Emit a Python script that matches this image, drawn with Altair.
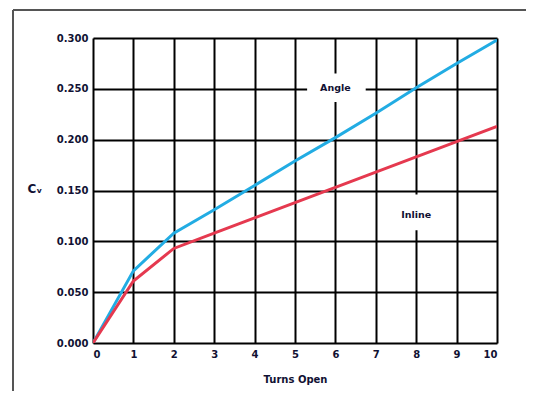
import altair as alt
import pandas as pd

turns = [0, 1, 2, 3, 4, 5, 6, 7, 8, 9, 10]
angle_cv = [0.000, 0.071, 0.108, 0.131, 0.155, 0.179, 0.202, 0.226, 0.251, 0.275, 0.298]
inline_cv = [0.000, 0.061, 0.093, 0.108, 0.123, 0.138, 0.153, 0.168, 0.183, 0.198, 0.213]
series_names = ["Angle", "Inline"]
series_colors = ["#22ace3", "#e5394f"]

x_ticks = list(range(0, 11))
y_ticks = [0.0, 0.05, 0.10, 0.15, 0.20, 0.25, 0.30]

label_text = ["Angle", "Inline"]
label_x = [6.0, 8.0]
label_y = [0.251, 0.126]
box_x1 = [5.3, 7.35]
box_x2 = [6.75, 8.65]
box_y1 = [0.237, 0.111]
box_y2 = [0.265, 0.146]

rows = []
for t, a, i in zip(turns, angle_cv, inline_cv):
    rows.append({"turns": t, "cv": a, "series": "Angle"})
    rows.append({"turns": t, "cv": i, "series": "Inline"})
df = pd.DataFrame(rows)
labels = pd.DataFrame({"text": label_text, "x": label_x, "y": label_y,
                       "x1": box_x1, "x2": box_x2, "y1": box_y1, "y2": box_y2})

FONT = "DejaVu Sans"
W, H = 404, 305

xs = alt.Scale(domain=[0, 10], nice=False)
ys = alt.Scale(domain=[0, 0.3], nice=False)

lines = alt.Chart(df).mark_line(strokeWidth=3, clip=True).encode(
    x=alt.X("turns:Q", scale=xs, axis=alt.Axis(
        values=x_ticks, title="Turns Open", grid=True, gridColor="#000000",
        gridWidth=2, gridOpacity=1, ticks=False, domain=False,
        labelFont=FONT, labelFontWeight="bold", labelFontSize=10, labelColor="#111133",
        labelPadding=6, titleFont=FONT, titleFontWeight="bold", titleFontSize=10,
        titleColor="#111133", titlePadding=15)),
    y=alt.Y("cv:Q", scale=ys, axis=alt.Axis(
        values=y_ticks, format=".3f", title="Cᵥ", grid=True, gridColor="#000000",
        gridWidth=2, gridOpacity=1, ticks=False, domain=False,
        labelFont=FONT, labelFontWeight="bold", labelFontSize=10, labelColor="#111133",
        labelPadding=5, titleFont=FONT, titleFontWeight="bold", titleFontSize=12,
        titleColor="#111133", titleAngle=0, titleAlign="left", titleBaseline="middle",
        titleX=-66, titleY=150)),
    color=alt.Color("series:N", scale=alt.Scale(domain=series_names, range=series_colors),
                    legend=None),
)

boxes = alt.Chart(labels).mark_rect(fill="white", stroke=None).encode(
    x="x1:Q", x2="x2:Q", y="y1:Q", y2="y2:Q")

texts = alt.Chart(labels).mark_text(font=FONT, fontWeight="bold", fontSize=9.5,
                                    color="#111133").encode(
    x=alt.X("x:Q", scale=xs), y=alt.Y("y:Q", scale=ys), text="text:N")

frame_left = alt.Chart(labels).mark_rule(color="#555555", strokeWidth=2).encode(
    x=alt.value(-80), y=alt.value(-28), y2=alt.value(H + 70))
frame_top = alt.Chart(labels).mark_rule(color="#555555", strokeWidth=2).encode(
    x=alt.value(-80), x2=alt.value(W + 60), y=alt.value(-28))

chart = alt.layer(boxes, lines, texts, frame_left, frame_top).properties(
    width=W, height=H,
    autosize=alt.AutoSizeParams(type="none"),
    padding={"left": 85, "top": 30, "right": 29, "bottom": 48},
).configure_view(stroke="#000000", strokeWidth=2.5).configure(background="white")

chart.save("out.html", embed_options={"renderer": "svg", "actions": False})
